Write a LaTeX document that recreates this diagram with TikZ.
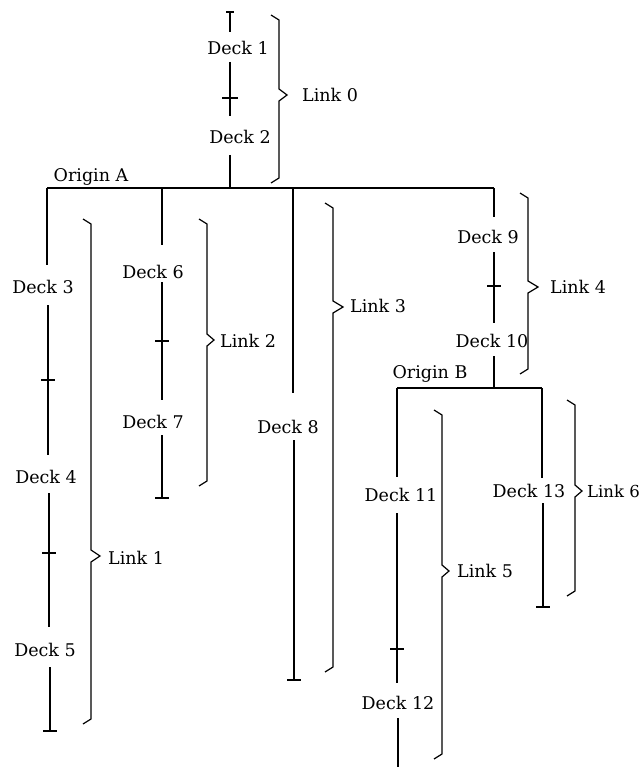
\documentclass[tikz,border=0pt]{standalone}
\usepackage{fontspec}
\setmainfont{DejaVu Serif}
\newcommand\LinkBrace[6]{% #1 name, #2 main x, #3 top y, #4 tip y, #5 bottom y, #6 tip x
  \draw[ln, line join=miter] (#2-8,#3) -- (#2,#3+5) -- (#2,#4-6) -- (#6,#4) -- (#2,#4+6) -- (#2,#5-5) -- (#2-8,#5);
  \coordinate (#1) at (#6,#4);
}
\begin{document}
\begin{tikzpicture}[x=1pt,y=-1pt,
  ln/.style={line width=1.2pt},
  deck/.style={font=\fontsize{17.5}{20}\selectfont, inner sep=0pt},
  lbl/.style={deck, anchor=west},
  orig/.style={deck, anchor=base}]
\useasboundingbox (0,0) rectangle (644,767);

% ---------- column 0 : Deck 1 / Deck 2 ----------
\coordinate (c0top) at (230,12);
\coordinate (c0a) at (230,32);
\node[deck] (d1) at (238,48) {Deck 1};
\coordinate (c0b) at (230,62);
\coordinate (k0) at (230,98);
\coordinate (c0c) at (230,116);
\node[deck] (d2) at (240,137) {Deck 2};
\coordinate (c0d) at (230,155);
\coordinate (oA) at (230,188);
\draw[ln] (c0top) -- (c0a);
\draw[ln] ([xshift=-4pt]c0top) -- ([xshift=4pt]c0top);
\draw[ln] (c0b) -- (k0) -- (c0c);
\draw[ln] ([xshift=-8pt]k0) -- ([xshift=8pt]k0);
\draw[ln] (c0d) -- (oA);
\LinkBrace{b0}{279}{15}{95}{183}{287}
\node[lbl] (L0) at (302,95) {Link 0};

% ---------- origin A bar ----------
\coordinate (aL) at (47,188);
\coordinate (aR) at (494,188);
\draw[ln] (aL) -- (aR);
\node[orig] (OA) at (91,182) {Origin A};

% ---------- column 1 : Deck 3 / 4 / 5 ----------
\coordinate (c1b) at (47,265);
\node[deck] (d3) at (43,287) {Deck 3};
\coordinate (c1c) at (48,305);
\coordinate (k1) at (48,380);
\coordinate (c1d) at (48,455);
\node[deck] (d4) at (46,477) {Deck 4};
\coordinate (c1e) at (49,493);
\coordinate (k2) at (49,553);
\coordinate (c1f) at (49,627);
\node[deck] (d5) at (45,650) {Deck 5};
\coordinate (c1g) at (50,667);
\coordinate (c1end) at (50,731);
\draw[ln] (aL) -- (c1b);
\draw[ln] (c1c) -- (k1) -- (c1d);
\draw[ln] ([xshift=-7pt]k1) -- ([xshift=7pt]k1);
\draw[ln] (c1e) -- (k2) -- (c1f);
\draw[ln] ([xshift=-7pt]k2) -- ([xshift=7pt]k2);
\draw[ln] (c1g) -- (c1end);
\draw[ln] ([xshift=-7pt]c1end) -- ([xshift=7pt]c1end);
\LinkBrace{b1}{91}{219}{556}{724}{100}
\node[lbl] (L1) at (108,558) {Link 1};

% ---------- column 2 : Deck 6 / 7 ----------
\coordinate (c2a) at (162,188);
\coordinate (c2b) at (162,245);
\node[deck] (d6) at (153,272) {Deck 6};
\coordinate (c2c) at (162,282);
\coordinate (k3) at (162,341);
\coordinate (c2d) at (162,400);
\node[deck] (d7) at (153,422) {Deck 7};
\coordinate (c2e) at (162,435);
\coordinate (c2end) at (162,498);
\draw[ln] (c2a) -- (c2b);
\draw[ln] (c2c) -- (k3) -- (c2d);
\draw[ln] ([xshift=-7pt]k3) -- ([xshift=7pt]k3);
\draw[ln] (c2e) -- (c2end);
\draw[ln] ([xshift=-7pt]c2end) -- ([xshift=7pt]c2end);
\LinkBrace{b2}{207}{219}{340}{486}{214}
\node[lbl] (L2) at (220,341) {Link 2};

% ---------- column 3 : Deck 8 ----------
\coordinate (c3a) at (293,188);
\coordinate (c3b) at (293,393);
\node[deck] (d8) at (288,427) {Deck 8};
\coordinate (c3c) at (294,440);
\coordinate (c3end) at (294,680);
\draw[ln] (c3a) -- (c3b);
\draw[ln] (c3c) -- (c3end);
\draw[ln] ([xshift=-7pt]c3end) -- ([xshift=7pt]c3end);
\LinkBrace{b3}{333}{203}{307}{672}{343}
\node[lbl] (L3) at (350,306) {Link 3};

% ---------- column 4 : Deck 9 / 10 ----------
\coordinate (c4b) at (494,217);
\node[deck] (d9) at (488,237) {Deck 9};
\coordinate (c4c) at (494,252);
\coordinate (k4) at (494,286);
\coordinate (c4d) at (494,323);
\node[deck] (d10) at (492,341) {Deck 10};
\coordinate (c4e) at (494,356);
\coordinate (oB) at (494,388);
\draw[ln] (aR) -- (c4b);
\draw[ln] (c4c) -- (k4) -- (c4d);
\draw[ln] ([xshift=-7pt]k4) -- ([xshift=7pt]k4);
\draw[ln] (c4e) -- (oB);
\LinkBrace{b4}{528}{193}{287}{374}{538}
\node[lbl] (L4) at (550,287) {Link 4};

% ---------- origin B bar ----------
\coordinate (bL) at (397,388);
\coordinate (bR) at (542,388);
\draw[ln] (bL) -- (bR);
\node[orig] (OB) at (430,378) {Origin B};

% ---------- column 5 : Deck 11 / 12 ----------
\coordinate (c5b) at (397,477);
\node[deck] (d11) at (401,495) {Deck 11};
\coordinate (c5c) at (397,513);
\coordinate (k5) at (397,649);
\coordinate (c5d) at (397,683);
\node[deck] (d12) at (398,703) {Deck 12};
\coordinate (c5e) at (398,718);
\coordinate (c5end) at (398,767);
\draw[ln] (bL) -- (c5b);
\draw[ln] (c5c) -- (k5) -- (c5d);
\draw[ln] ([xshift=-7pt]k5) -- ([xshift=7pt]k5);
\draw[ln] (c5e) -- (c5end);
\LinkBrace{b5}{442}{410}{571}{759}{449}
\node[lbl] (L5) at (457,571) {Link 5};

% ---------- column 6 : Deck 13 ----------
\coordinate (c6b) at (542,478);
\node[deck] (d13) at (529,491) {Deck 13};
\coordinate (c6c) at (543,503);
\coordinate (c6end) at (543,607);
\draw[ln] (bR) -- (c6b);
\draw[ln] (c6c) -- (c6end);
\draw[ln] ([xshift=-7pt]c6end) -- ([xshift=7pt]c6end);
\LinkBrace{b6}{575}{400}{491}{596}{582}
\node[lbl, font=\fontsize{16.5}{20}\selectfont] (L6) at (587,491) {Link 6};
\end{tikzpicture}
\end{document}
